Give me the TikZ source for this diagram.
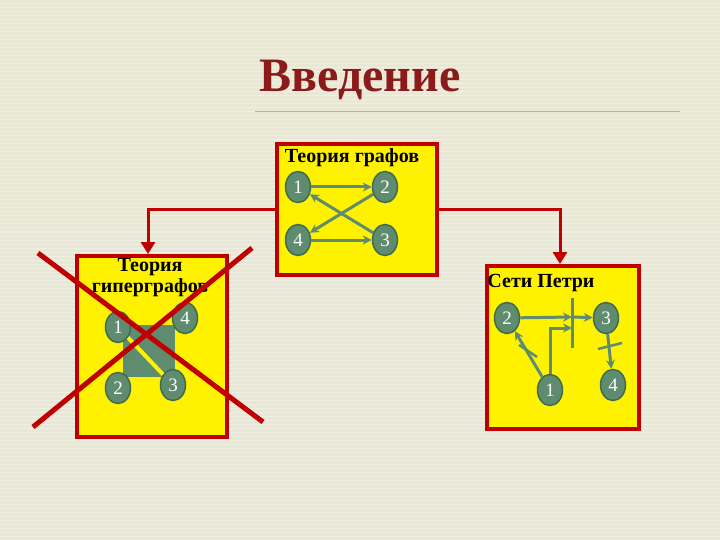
\documentclass[tikz,border=0pt]{standalone}
\usepackage{fontspec}
\setmainfont{Liberation Serif}
\usetikzlibrary{arrows.meta,shapes.geometric}
\definecolor{bg}{HTML}{E9E7D6}
\definecolor{nd}{HTML}{5F8C6E}
\definecolor{ndb}{HTML}{3F6A4F}
\definecolor{boxr}{HTML}{C00000}
\definecolor{ttl}{HTML}{8B1A1A}
\definecolor{ed}{HTML}{5F8C6E}
\begin{document}
\begin{tikzpicture}[x=1pt,y=-1pt,
  panel/.style={draw=boxr,line width=4pt,fill=yellow},
  gnode/.style={ellipse,draw=ndb,line width=1.5pt,fill=nd,minimum width=25pt,minimum height=31pt,inner sep=0pt,text=white,font=\fontsize{19}{21}\selectfont},
  edge/.style={draw=ed,line width=3pt,-{Stealth[length=9pt,width=9pt]}},
  conn/.style={draw=boxr,line width=3pt,-{Triangle[length=12pt,width=14pt]}},
  cross/.style={draw=boxr,line width=5pt},
  ttext/.style={font=\bfseries\fontsize{20}{21}\selectfont,align=center}]
\useasboundingbox (0,0) rectangle (720,540);
\fill[bg] (0,0) rectangle (720,540);
\foreach \y in {0,4,...,540} \draw[white,opacity=0.35,line width=1pt] (0,\y) -- (720,\y);
\node[font=\bfseries\fontsize{48}{52}\selectfont,text=ttl] (title) at (360,80) {Введение};
\draw[gray!60,line width=0.8pt] (255,111) -- (680,111);
% center
\node[panel,minimum width=160pt,minimum height=131pt,anchor=north west] (cb) at (275,142) {};
\node[ttext] (ct) at (352,158) {Теория графов};
\node[gnode] (c1) at (298,187) {1};
\node[gnode] (c2) at (385,187) {2};
\node[gnode] (c4) at (298,240) {4};
\node[gnode] (c3) at (385,240) {3};
\draw[edge] (c1) -- (c2);
\draw[edge] (c4) -- (c3);
\draw[edge] (c2) -- (c4);
\draw[edge] (c3) -- (c1);
% left
\node[panel,minimum width=150pt,minimum height=181pt,anchor=north west] (lb) at (75,254) {};
\node[ttext] (lt) at (150,278) {Теория\\гиперграфов};
\fill[nd] (123,325) rectangle (175,377);
\node[gnode] (l1) at (118,327) {1};
\node[gnode] (l4) at (185,318) {4};
\node[gnode] (l2) at (118,388) {2};
\node[gnode] (l3) at (173,385) {3};
\draw[yellow,line width=4pt] (l1) -- (l3);
% right
\node[panel,minimum width=152pt,minimum height=163pt,anchor=north west] (rb) at (485,264) {};
\node[ttext] (rt) at (541,283) {Сети Петри};
\node[gnode] (r2) at (507,318) {2};
\node[gnode] (r3) at (606,318) {3};
\node[gnode] (r1) at (550,390) {1};
\node[gnode] (r4) at (613,385) {4};
\coordinate (tb) at (572,298); \coordinate (tbb) at (572,348);
\draw[ed,line width=3pt] (tb) -- (tbb);
\coordinate (t2) at (572,317); \coordinate (t1) at (572,328);
\draw[edge] (r2) -- (t2);
\draw[edge] (r1.north) |- (t1);
\draw[edge] (t2) -- (r3);
\draw[edge] (r1) -- (r2);
\draw[ed,line width=2.5pt] (519,345) -- (537,357);
\draw[edge] (r3) -- (r4);
\draw[ed,line width=2.5pt] (598,349) -- (622,343);
% connectors
\coordinate (lc) at (148,210); \coordinate (rc) at (560,210);
\draw[conn] (cb.west|-lc) -- (lc) -- (lb.north-|lc);
\draw[conn] (cb.east|-rc) -- (rc) -- (rb.north-|rc);
% cross
\coordinate (x1) at (38,253); \coordinate (x2) at (263,422);
\coordinate (x3) at (252,248); \coordinate (x4) at (33,427);
\draw[cross] (x1) -- (x2);
\draw[cross] (x3) -- (x4);
\end{tikzpicture}
\end{document}
